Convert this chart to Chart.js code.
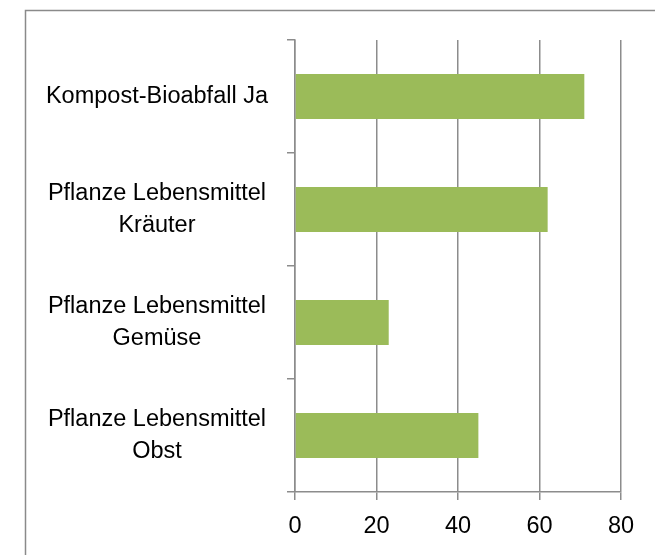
<!DOCTYPE html>
<html lang="de">
<head>
  <meta charset="UTF-8">
  <title>Kompost / Pflanze Lebensmittel</title>
  <script src="https://cdn.jsdelivr.net/npm/chart.js"></script>
  <style>
    html, body { margin: 0; padding: 0; background: #fff; }
    #wrap { position: relative; width: 655px; height: 555px; }
  </style>
</head>
<body>
  <div id="wrap">
    <canvas id="chart" width="655" height="555"></canvas>
  </div>

  <script>
    const categories = [
      "Kompost-Bioabfall Ja",
      ["Pflanze Lebensmittel", "Kräuter"],
      ["Pflanze Lebensmittel", "Gemüse"],
      ["Pflanze Lebensmittel", "Obst"]
    ];
    const values = [71, 62, 23, 45];
    const xTicks = [0, 20, 40, 60, 80];

    const FONT = "'Liberation Sans', Arial, sans-serif";
    const GRID = '#8c8c8c';

    // outer frame, like the office chart area border
    const framePlugin = {
      id: 'frame',
      beforeDraw(chart) {
        const ctx = chart.ctx;
        ctx.save();
        ctx.strokeStyle = '#8a8a8a';
        ctx.lineWidth = 1.5;
        ctx.strokeRect(25.5, 10.5, 700, 600);
        ctx.restore();
      }
    };

    new Chart(document.getElementById('chart'), {
      type: 'bar',
      data: {
        labels: categories,
        datasets: [{
          data: values,
          backgroundColor: '#9bbb59',
          categoryPercentage: 1,
          barPercentage: 0.4
        }]
      },
      options: {
        indexAxis: 'y',
        responsive: false,
        animation: false,
        layout: { padding: { top: 40, right: 34, left: 0, bottom: 0 } },
        plugins: {
          legend: { display: false },
          tooltip: { enabled: false }
        },
        scales: {
          x: {
            min: xTicks[0],
            max: xTicks[xTicks.length - 1],
            afterBuildTicks(scale) {
              scale.ticks = xTicks.map(v => ({ value: v }));
            },
            afterFit(scale) { scale.height = 63; },
            grid: { color: GRID, lineWidth: 1.5, tickLength: 8 },
            border: { color: GRID, width: 1.5 },
            ticks: {
              color: '#000',
              padding: 12,
              font: { family: FONT, size: 23.5 }
            }
          },
          y: {
            afterFit(scale) {
              scale.width = 295;
              scale.paddingTop = 0;
              scale.paddingBottom = 0;
            },
            grid: { drawOnChartArea: false, color: GRID, lineWidth: 1.5, tickLength: 8 },
            border: { color: GRID, width: 1.5 },
            ticks: {
              color: '#000',
              padding: 19,
              crossAlign: 'center',
              font: { family: FONT, size: 23.5, lineHeight: 1.4 }
            }
          }
        }
      },
      plugins: [framePlugin]
    });
  </script>
</body>
</html>
